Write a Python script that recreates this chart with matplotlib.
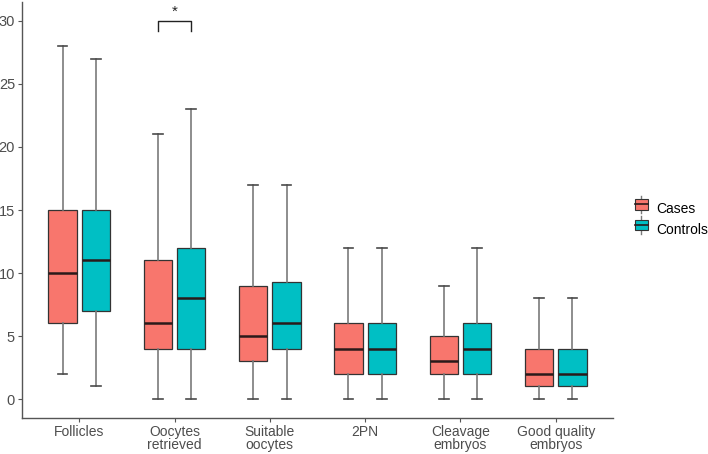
import matplotlib.pyplot as plt
from matplotlib.patches import Rectangle
from matplotlib.lines import Line2D
from matplotlib.legend_handler import HandlerBase

plt.rcParams['font.family'] = ['Liberation Sans', 'DejaVu Sans']

# data (whisker low, q1, median, q3, whisker high)
categories = ["Follicles", "Oocytes\nretrieved", "Suitable\noocytes", "2PN",
              "Cleavage\nembryos", "Good quality\nembryos"]
cases_low = [2, 0, 0, 0, 0, 0]
cases_q1 = [6, 4, 3, 2, 2, 1]
cases_med = [10, 6, 5, 4, 3, 2]
cases_q3 = [15, 11, 9, 6, 5, 4]
cases_high = [28, 21, 17, 12, 9, 8]

controls_low = [1, 0, 0, 0, 0, 0]
controls_q1 = [7, 4, 4, 2, 2, 1]
controls_med = [11, 8, 6, 4, 4, 2]
controls_q3 = [15, 12, 9.25, 6, 6, 4]
controls_high = [27, 23, 17, 12, 12, 8]

yticks = [0, 5, 10, 15, 20, 25, 30]
groups = ["Cases", "Controls"]
colors = ["#F8766D", "#00BFC4"]

def make_stats(low, q1, med, q3, high):
    return [dict(whislo=a, q1=b, med=c, q3=d, whishi=e, fliers=[])
            for a, b, c, d, e in zip(low, q1, med, q3, high)]

fig = plt.figure(figsize=(7.08, 4.54), dpi=100)
ax = fig.add_axes([22 / 708, 36 / 454, (613 - 22) / 708, (418 - 2) / 454])

tick_col = "#4D4D4D"
offset = 0.175
bw = 0.3
all_stats = [make_stats(cases_low, cases_q1, cases_med, cases_q3, cases_high),
             make_stats(controls_low, controls_q1, controls_med, controls_q3, controls_high)]
for k, stats in enumerate(all_stats):
    pos = [i + 1 + (offset if k else -offset) for i in range(len(categories))]
    ax.bxp(stats, positions=pos, widths=bw, patch_artist=True, showfliers=False,
           capwidths=0.1,
           boxprops=dict(facecolor=colors[k], edgecolor="#333333", linewidth=0.9),
           medianprops=dict(color="#2a1a1a", linewidth=1.8),
           whiskerprops=dict(color="#7a7a7a", linewidth=1.2),
           capprops=dict(color="#4a4a4a", linewidth=1.2),
           manage_ticks=False, zorder=3)

# significance bracket for oocytes retrieved
x1, x2 = 2 - offset, 2 + offset
ax.plot([x1, x1, x2, x2], [29.2, 30, 30, 29.2], color="#222222", lw=1.0)
ax.text(2, 30.2, "*", ha="center", va="bottom", fontsize=11, color="#222222")

ax.set_xlim(0.4, 6.6)
ax.set_ylim(-1.5, 31.5)
ax.set_xticks(range(1, len(categories) + 1))
ax.set_xticklabels(categories, fontsize=10, color=tick_col, linespacing=0.95)
ax.set_yticks(yticks)
ax.set_yticklabels([str(t) for t in yticks], fontsize=10.5, color=tick_col)
ax.tick_params(length=3, color="#555555", width=0.8, pad=2)
for s in ["top", "right"]:
    ax.spines[s].set_visible(False)
for s in ["left", "bottom"]:
    ax.spines[s].set_color("#555555")
    ax.spines[s].set_linewidth(1.0)


class BoxHandler(HandlerBase):
    def create_artists(self, legend, orig, xd, yd, w, h, fontsize, trans):
        fc = orig.get_facecolor()
        cx = xd + w / 2
        stub = Line2D([cx, cx], [yd - h * 0.15, yd + h * 1.15], color="#7a7a7a",
                      lw=1.0, transform=trans)
        r = Rectangle((xd, yd + h * 0.1), w, h * 0.8, facecolor=fc,
                      edgecolor="#333333", lw=0.8, transform=trans)
        m = Line2D([xd, xd + w], [yd + h / 2] * 2, color="#2a1a1a",
                   lw=1.2, transform=trans)
        return [stub, r, m]


handles = [Rectangle((0, 0), 1, 1, facecolor=c) for c in colors]
fig.legend(handles, groups, handler_map={Rectangle: BoxHandler()},
           loc="center left", bbox_to_anchor=(635 / 708, 1 - 219 / 454),
           frameon=False, fontsize=10, handlelength=0.9, handleheight=1.1,
           handletextpad=0.6, labelspacing=0.45, borderpad=0, borderaxespad=0)

fig.savefig("out.png", dpi=100)
